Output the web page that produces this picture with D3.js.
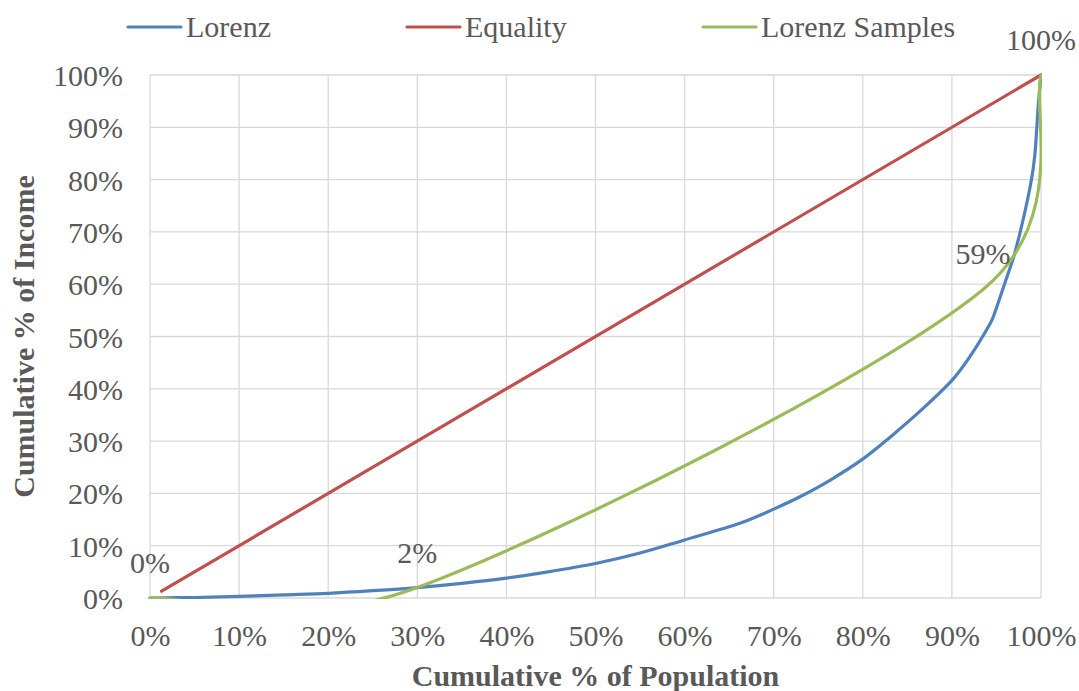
<!DOCTYPE html>
<html>
<head>
<meta charset="utf-8">
<script src="https://cdn.jsdelivr.net/npm/d3@7"></script>
<style>
  html, body { margin: 0; padding: 0; background: #ffffff; }
  svg { display: block; font-family: "Liberation Serif", "Times New Roman", serif; }
</style>
</head>
<body>
<svg id="chart" width="1079" height="691"></svg>
<script>
// ---- data (percentages) ----
const populationTicks = [0, 10, 20, 30, 40, 50, 60, 70, 80, 90, 100];
const incomeTicks = [0, 10, 20, 30, 40, 50, 60, 70, 80, 90, 100];

const seriesNames = ["Lorenz", "Equality", "Lorenz Samples"];

const lorenzX = [0, 5, 10, 15, 20, 25, 30, 35, 40, 45, 50, 55, 60, 66.2, 70, 73, 76.4, 80.1, 83.1, 86.8, 90, 92, 94.3, 94.8, 96.0, 97.1, 98.2, 98.95, 99.3, 99.5, 99.7, 100];
const lorenzY = [0, 0.1, 0.3, 0.6, 0.9, 1.4, 2.0, 2.8, 3.8, 5.1, 6.6, 8.6, 11.1, 14.3, 17.0, 19.4, 22.6, 26.7, 30.8, 36.3, 41.6, 46.1, 52.5, 54.5, 60.5, 66.2, 73.9, 80.2, 84.6, 89.2, 94.3, 100];

const equalityX = [1.3, 100];
const equalityY = [1.3, 100];

const samplesX = [0, 30, 93.5, 100];
const samplesY = [0, 2, 59, 100];
const samplesLabels = ["0%", "2%", "59%", "100%"];

const colors = ["#4F81BD", "#C0504D", "#9BBB59"];

// ---- layout ----
const svg = d3.select("#chart");
const plot = { left: 150, right: 1041, top: 75, bottom: 598 };
const textColor = "#595959";
const gridColor = "#D9D9D9";

const x = d3.scaleLinear().domain([0, 100]).range([plot.left, plot.right]);
const y = d3.scaleLinear().domain([0, 100]).range([plot.bottom, plot.top]);

// Spreadsheet-style smoothed line: cubic Bezier segments with 1/6 tangents,
// shortened when a tangent would exceed half of its segment.
function SmoothCurve(context) { this._context = context; }
SmoothCurve.prototype = {
  areaStart() { this._line = 0; },
  areaEnd() { this._line = NaN; },
  lineStart() { this._pts = []; },
  point(px, py) { this._pts.push([+px, +py]); },
  lineEnd() {
    const p = this._pts, n = p.length, c = this._context;
    if (!n) return;
    c.moveTo(p[0][0], p[0][1]);
    const dist = (a, b) => Math.hypot(b[0] - a[0], b[1] - a[1]);
    for (let i = 0; i < n - 1; i++) {
      const p0 = p[Math.max(i - 1, 0)], p1 = p[i], p2 = p[i + 1], p3 = p[Math.min(i + 2, n - 1)];
      const d12 = dist(p1, p2), d02 = dist(p0, p2), d13 = dist(p1, p3);
      const f1 = d02 === 0 ? 0 : (d02 / 6 < d12 / 2 ? 1 / 6 : d12 / (2 * d02));
      const f2 = d13 === 0 ? 0 : (d13 / 6 < d12 / 2 ? 1 / 6 : d12 / (2 * d13));
      c.bezierCurveTo(
        p1[0] + f1 * (p2[0] - p0[0]), p1[1] + f1 * (p2[1] - p0[1]),
        p2[0] - f2 * (p3[0] - p1[0]), p2[1] - f2 * (p3[1] - p1[1]),
        p2[0], p2[1]);
    }
  }
};
const curveSmooth = ctx => new SmoothCurve(ctx);

// ---- gridlines ----
const grid = svg.append("g");
grid.selectAll(".hgrid").data(incomeTicks).join("line")
  .attr("x1", plot.left).attr("x2", plot.right)
  .attr("y1", d => y(d)).attr("y2", d => y(d))
  .attr("stroke", gridColor).attr("stroke-width", 1.3);
grid.selectAll(".vgrid").data(populationTicks).join("line")
  .attr("x1", d => x(d)).attr("x2", d => x(d))
  .attr("y1", plot.top).attr("y2", plot.bottom)
  .attr("stroke", gridColor).attr("stroke-width", 1.3);

// ---- axes (labels only; lines come from the grid) ----
const xAxis = svg.append("g")
  .attr("transform", `translate(0,${plot.bottom})`)
  .call(d3.axisBottom(x).tickValues(populationTicks).tickFormat(d => d + "%").tickSize(0).tickPadding(0));
const yAxis = svg.append("g")
  .attr("transform", `translate(${plot.left},0)`)
  .call(d3.axisLeft(y).tickValues(incomeTicks).tickFormat(d => d + "%").tickSize(0).tickPadding(0));
[xAxis, yAxis].forEach(g => {
  g.select(".domain").remove();
  g.selectAll("text").attr("fill", textColor).attr("font-size", 30)
    .attr("font-family", "Liberation Serif, serif");
});
xAxis.selectAll("text").attr("dy", null).attr("y", 48);
yAxis.selectAll("text").attr("dy", null).attr("x", -27).attr("y", 0).attr("dominant-baseline", "central");

// axis titles
svg.append("text")
  .attr("x", (plot.left + plot.right) / 2).attr("y", 686)
  .attr("text-anchor", "middle").attr("font-weight", "bold")
  .attr("font-size", 30).attr("fill", textColor)
  .text("Cumulative % of Population");
svg.append("text")
  .attr("transform", `translate(34,${(plot.top + plot.bottom) / 2}) rotate(-90)`)
  .attr("text-anchor", "middle").attr("font-weight", "bold")
  .attr("font-size", 30).attr("fill", textColor)
  .text("Cumulative % of Income");

// ---- series ----
svg.append("clipPath").attr("id", "plotClip")
  .append("rect").attr("x", plot.left - 10).attr("y", plot.top - 10)
  .attr("width", plot.right - plot.left + 11).attr("height", plot.bottom - plot.top + 11);

const line = d3.line().x(d => x(d[0])).y(d => y(d[1])).curve(curveSmooth);
const series = [
  d3.zip(lorenzX, lorenzY),
  d3.zip(equalityX, equalityY),
  d3.zip(samplesX, samplesY)
];
const lines = svg.append("g").attr("clip-path", "url(#plotClip)");
lines.selectAll("path").data(series).join("path")
  .attr("d", line)
  .attr("fill", "none")
  .attr("stroke", (d, i) => colors[i])
  .attr("stroke-width", 3.2)
  .attr("stroke-linecap", "round")
  .attr("stroke-linejoin", "round");

// data labels on the sample points
svg.append("g").selectAll("text").data(d3.zip(samplesX, samplesY, samplesLabels)).join("text")
  .attr("x", d => x(d[0])).attr("y", d => y(d[1]) - 25)
  .attr("text-anchor", "middle").attr("font-size", 30).attr("fill", textColor)
  .text(d => d[2]);

// ---- legend ----
const legendItems = [
  { name: seriesNames[0], color: colors[0], x: 128 },
  { name: seriesNames[1], color: colors[1], x: 407 },
  { name: seriesNames[2], color: colors[2], x: 703 }
];
const legend = svg.append("g").selectAll("g").data(legendItems).join("g")
  .attr("transform", d => `translate(${d.x},27)`);
legend.append("line").attr("x1", 0).attr("x2", 53).attr("y1", 0).attr("y2", 0)
  .attr("stroke", d => d.color).attr("stroke-width", 3.2).attr("stroke-linecap", "round");
legend.append("text").attr("x", 58).attr("y", 10)
  .attr("font-size", 30).attr("fill", textColor).text(d => d.name);
</script>
</body>
</html>
